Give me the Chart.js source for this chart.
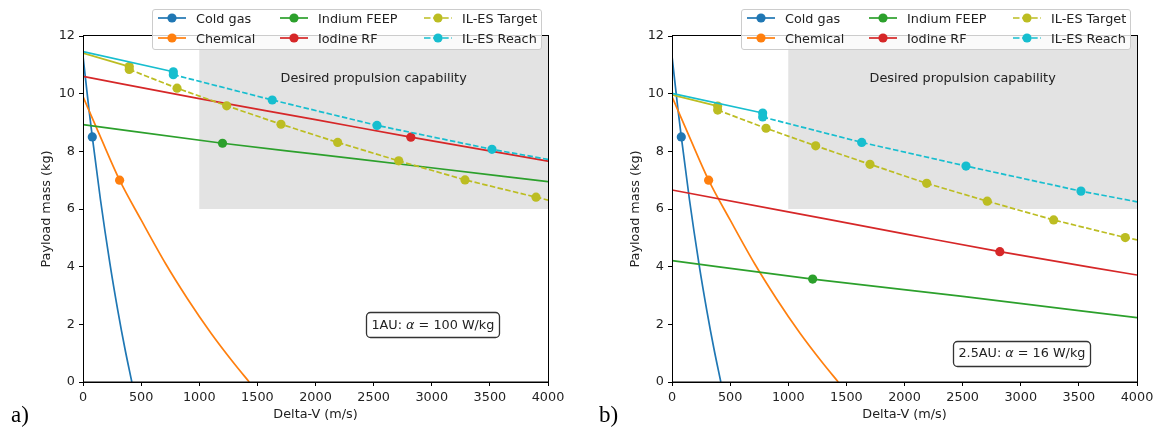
<!DOCTYPE html>
<html><head><meta charset="utf-8">
<script src="https://cdn.jsdelivr.net/npm/chart.js@4.4.1/dist/chart.umd.min.js"></script>
<style>
body{margin:0;width:1156px;height:436px;overflow:hidden;background:#fff;font-family:"DejaVu Sans",sans-serif;position:relative;}
.wrap{position:absolute;top:0;height:436px;}
.legend{position:absolute;top:9px;width:390px;height:41px;background:rgba(255,255,255,0.8);border:1px solid #cccccc;border-radius:3px;box-sizing:border-box;}
.item{position:absolute;height:20px;display:flex;align-items:center;font-size:12.8px;color:#222;white-space:nowrap;}
.item svg{margin-right:10px;flex:none;}
.panel{position:absolute;top:402px;font-family:"Liberation Serif",serif;font-size:23px;color:#000;}
</style>
</head><body>
<div class="wrap" style="left:0;width:578px;"><canvas id="ca" width="578" height="436"></canvas>
  <div class="legend" id="lega" style="left:152px;"></div></div>
<div class="wrap" style="left:589px;width:567px;overflow:hidden;"><canvas id="cb" width="572" height="436"></canvas>
  <div class="legend" id="legb" style="left:152px;"></div></div>
<div class="panel" style="left:11px;">a)</div>
<div class="panel" style="left:599px;">b)</div>
<script>
// ---------- data ----------
const xTicksStep = 500, yTicksStep = 2;
const seriesNames = ['Cold gas','Chemical','Indium FEEP','Iodine RF','IL-ES Target','IL-ES Reach'];

// Cold gas (same in both panels)
const coldX = [0, 50, 80, 150, 232, 300, 360, 420];
const coldY = [11.3, 9.5, 8.5, 6.33, 4.1, 2.47, 1.17, 0];
const coldMarks = [2];
// Chemical (same in both panels)
const chemX = [0, 150, 315, 500, 711, 900, 1100, 1300, 1430];
const chemY = [9.9, 8.5, 7.0, 5.62, 4.1, 2.88, 1.7, 0.64, 0];
const chemMarks = [2];

// Panel a) 1AU
const feepAX = [0, 1200, 2000, 2850, 4000];
const feepAY = [8.93, 8.28, 7.9, 7.5, 6.95];
const feepAMarks = [1];
const rfAX = [0, 1000, 2000, 2820, 4000];
const rfAY = [10.6, 9.83, 9.1, 8.49, 7.66];
const rfAMarks = [3];
const tgtASolidX = [0, 398];
const tgtASolidY = [11.41, 10.94];
const tgtADashX = [398, 809, 1236, 1703, 2191, 2716, 3286, 3897, 4000];
const tgtADashY = [10.84, 10.19, 9.58, 8.94, 8.31, 7.67, 7.01, 6.41, 6.31];
const reachASolidX = [0, 777];
const reachASolidY = [11.46, 10.76];
const reachADashX = [777, 1628, 2529, 3518, 4000];
const reachADashY = [10.66, 9.78, 8.90, 8.07, 7.72];

// Panel b) 2.5AU
const feepBX = [0, 1210, 2500, 4000];
const feepBY = [4.21, 3.57, 2.97, 2.23];
const feepBMarks = [1];
const rfBX = [0, 1000, 2000, 2820, 4000];
const rfBY = [6.66, 5.9, 5.14, 4.52, 3.71];
const rfBMarks = [3];
const tgtBSolidX = [0, 393];
const tgtBSolidY = [9.96, 9.57];
const tgtBDashX = [393, 809, 1236, 1703, 2191, 2712, 3283, 3899, 4000];
const tgtBDashY = [9.43, 8.80, 8.19, 7.55, 6.89, 6.27, 5.62, 5.01, 4.93];
const reachBSolidX = [0, 780];
const reachBSolidY = [10.01, 9.33];
const reachBDashX = [780, 1632, 2529, 3518, 4000];
const reachBDashY = [9.19, 8.31, 7.49, 6.62, 6.25];

const solidEndMarks = [1];
const tgtDashMarks = [0, 1, 2, 3, 4, 5, 6, 7];
const reachDashMarks = [0, 1, 2, 3];

// desired region and notes
const regionX = [1000, 4000];
const regionY = [6, 12];
const desiredText = 'Desired propulsion capability';
const desiredAt = [2500, 10.52];
const noteA = ['1AU: ', 'α', ' = 100 W/kg'];
const noteAAt = [3010, 2.0];
const noteB = ['2.5AU: ', 'α', ' = 16 W/kg'];
const noteBAt = [3010, 1.0];

// ---------- styling ----------
const C = {cold:'#1f77b4', chem:'#ff7f0e', feep:'#2ca02c', rf:'#d62728', tgt:'#bcbd22', reach:'#17becf'};
const FONT = '"DejaVu Sans"';
const FS = 12.8;
const DASH = [5.5, 2.4];

function pts(xs, ys){ return xs.map((x,i)=>({x:x, y:ys[i]})); }
function series(xs, ys, color, marks, extra){
  return Object.assign({
    data: pts(xs, ys),
    borderColor: color, backgroundColor: color,
    borderWidth: 1.7,
    pointRadius: ctx => marks.includes(ctx.dataIndex) ? 4.6 : 0,
    pointHoverRadius: 0,
    pointBorderWidth: 0,
    pointBackgroundColor: color,
    tension: 0,
    fill: false,
    spanGaps: true
  }, extra || {});
}

function buildSets(feepX, feepY, feepM, rfX, rfY, rfM, tSX, tSY, tDX, tDY, rSX, rSY, rDX, rDY){
  const list = [
    series(coldX, coldY, C.cold, coldMarks, {cubicInterpolationMode:'monotone'}),
    series(chemX, chemY, C.chem, chemMarks, {cubicInterpolationMode:'monotone'}),
    series(feepX, feepY, C.feep, feepM, {cubicInterpolationMode:'monotone'}),
    series(rfX, rfY, C.rf, rfM, {cubicInterpolationMode:'monotone'}),
    series(tSX, tSY, C.tgt, solidEndMarks),
    series(tDX, tDY, C.tgt, tgtDashMarks, {borderDash: DASH}),
    series(rSX, rSY, C.reach, solidEndMarks),
    series(rDX, rDY, C.reach, reachDashMarks, {borderDash: DASH})
  ];
  return list.reverse(); // later series drawn on top
}

function overlay(note, noteAt){
  return {
    id: 'overlay',
    beforeDatasetsDraw(chart){
      const {ctx, scales:{x, y}} = chart;
      const x0 = x.getPixelForValue(regionX[0]), x1 = x.getPixelForValue(regionX[1]);
      const y0 = y.getPixelForValue(regionY[1]), y1 = y.getPixelForValue(regionY[0]);
      ctx.save();
      ctx.fillStyle = '#e3e3e3';
      ctx.fillRect(x0, y0, x1 - x0, y1 - y0);
      ctx.fillStyle = '#222';
      ctx.font = FS + 'px ' + FONT;
      ctx.textAlign = 'center'; ctx.textBaseline = 'middle';
      ctx.fillText(desiredText, x.getPixelForValue(desiredAt[0]), y.getPixelForValue(desiredAt[1]));
      ctx.restore();
    },
    afterDatasetsDraw(chart){
      const {ctx, chartArea:a, scales:{x, y}} = chart;
      ctx.save();
      ctx.strokeStyle = '#000'; ctx.lineWidth = 1;
      ctx.strokeRect(Math.round(a.left)+0.5, Math.round(a.top)-0.5, Math.round(a.right - a.left), Math.round(a.bottom - a.top)+0.5);
      const fN = FS + 'px ' + FONT, fI = 'italic ' + FS + 'px ' + FONT;
      const fonts = [fN, fI, fN];
      let w = 0; const ws = [];
      note.forEach((t,i)=>{ ctx.font = fonts[i]; const m = ctx.measureText(t).width; ws.push(m); w += m; });
      const cx = x.getPixelForValue(noteAt[0]), cy = y.getPixelForValue(noteAt[1]);
      const padX = 5, h = 25;
      const bx = cx - w/2 - padX, by = cy - h/2, bw = w + 2*padX;
      ctx.beginPath();
      ctx.roundRect(Math.round(bx)+0.5, Math.round(by)+0.5, Math.round(bw), h, 4);
      ctx.fillStyle = '#fff'; ctx.fill();
      ctx.strokeStyle = '#333'; ctx.lineWidth = 1.3; ctx.stroke();
      ctx.fillStyle = '#222'; ctx.textBaseline = 'middle'; ctx.textAlign = 'left';
      let tx = cx - w/2;
      note.forEach((t,i)=>{ ctx.font = fonts[i]; ctx.fillText(t, tx, cy + 1); tx += ws[i]; });
      ctx.restore();
    }
  };
}

function makeChart(id, datasets, padRight, note, noteAt){
  const tickFont = {family: 'DejaVu Sans', size: FS};
  return new Chart(document.getElementById(id), {
    type: 'line',
    data: {datasets: datasets},
    options: {
      responsive: false, animation: false, devicePixelRatio: 1, events: [],
      layout: {padding: {top: 36, right: padRight, bottom: 0, left: 0}},
      plugins: {legend: {display: false}, tooltip: {enabled: false}},
      scales: {
        x: {
          type: 'linear', min: 0, max: 4000,
          ticks: {stepSize: xTicksStep, color: '#222', font: tickFont, padding: 4, maxRotation: 0, autoSkip: false,
                  callback: v => String(v)},
          grid: {drawOnChartArea: false, drawTicks: true, tickLength: 4, tickColor: '#000', tickWidth: 1},
          border: {display: true, color: '#000', width: 1},
          title: {display: true, text: 'Delta-V (m/s)', color: '#222', font: tickFont, padding: {top: 0, bottom: 13.5}},
          afterFit: s => { s.height = 54; }
        },
        y: {
          type: 'linear', min: 0, max: 12,
          ticks: {stepSize: yTicksStep, color: '#222', font: tickFont, padding: 4, callback: v => String(v)},
          grid: {drawOnChartArea: false, drawTicks: true, tickLength: 4, tickColor: '#000', tickWidth: 1},
          border: {display: true, color: '#000', width: 1},
          title: {display: true, text: 'Payload mass (kg)', color: '#222', font: tickFont, padding: {top: 38.5, bottom: 0}},
          afterFit: s => { s.width = 83; }
        }
      }
    },
    plugins: [overlay(note, noteAt)]
  });
}

makeChart('ca', buildSets(feepAX, feepAY, feepAMarks, rfAX, rfAY, rfAMarks,
  tgtASolidX, tgtASolidY, tgtADashX, tgtADashY, reachASolidX, reachASolidY, reachADashX, reachADashY),
  30, noteA, noteAAt);
makeChart('cb', buildSets(feepBX, feepBY, feepBMarks, rfBX, rfBY, rfBMarks,
  tgtBSolidX, tgtBSolidY, tgtBDashX, tgtBDashY, reachBSolidX, reachBSolidY, reachBDashX, reachBDashY),
  24, noteB, noteBAt);

// ---------- legends ----------
const legendColors = [C.cold, C.chem, C.feep, C.rf, C.tgt, C.reach];
const legendDashed = [false, false, false, false, true, true];
const legendPos = [[5,0],[5,1],[127,0],[127,1],[271,0],[271,1]];
function handle(color, dashed){
  const d = dashed ? ' stroke-dasharray="6.5,2.6"' : '';
  return '<svg width="28" height="12" viewBox="0 0 28 12"><line x1="0" y1="6" x2="28" y2="6" stroke="'+color+'" stroke-width="1.7"'+d+'/><circle cx="14" cy="6" r="4.6" fill="'+color+'"/></svg>';
}
['lega','legb'].forEach(id=>{
  const el = document.getElementById(id);
  seriesNames.forEach((n,i)=>{
    const it = document.createElement('div');
    it.className = 'item';
    it.style.left = legendPos[i][0] + 'px';
    it.style.top = (legendPos[i][1] ? 18 : -2) + 'px';
    it.innerHTML = handle(legendColors[i], legendDashed[i]) + '<span>' + n + '</span>';
    el.appendChild(it);
  });
});
</script>
</body></html>
